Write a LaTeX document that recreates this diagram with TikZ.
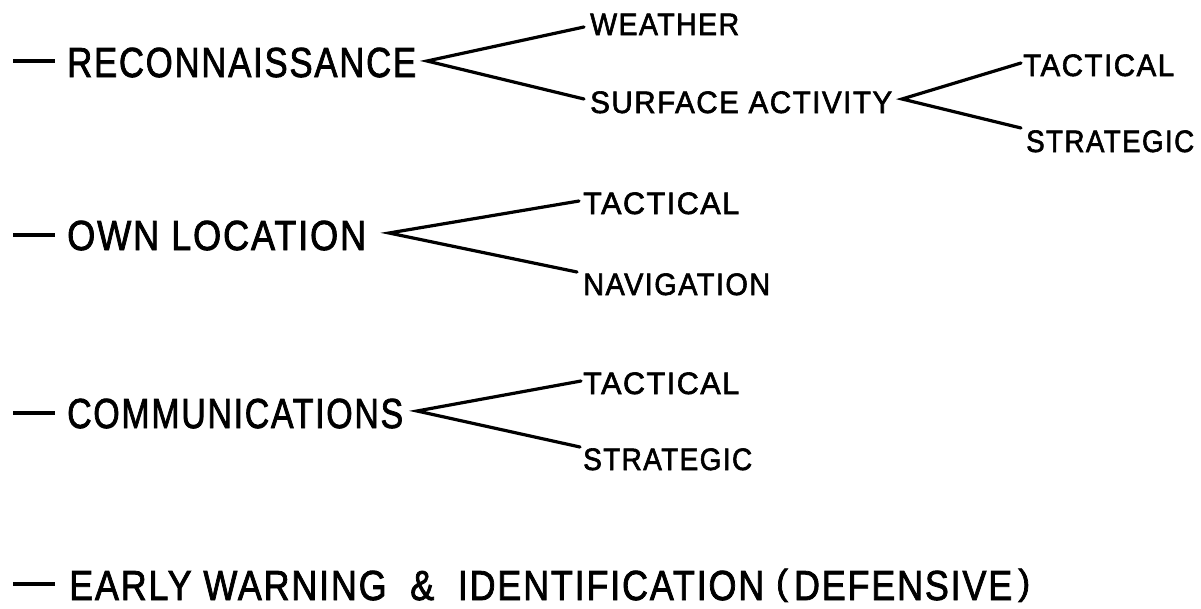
\documentclass[tikz,border=0pt]{standalone}
\usepackage{fontspec}
\setmainfont{Liberation Sans}
\newfontfamily\lettering[FakeBold=2,LetterSpace=5]{Liberation Sans}
\usepackage{graphicx}
\newcommand{\fitw}[2]{\resizebox{#1pt}{\height}{#2}}
\newcommand{\capparen}[1]{\raisebox{0.13em}{\scalebox{1}[0.85]{#1}}}
\begin{document}
\begin{tikzpicture}[x=1pt,y=-1pt,
  big/.style={inner sep=0pt,anchor=base west,font=\fontsize{42}{42}\lettering},
  small/.style={inner sep=0pt,anchor=base west,font=\fontsize{31}{31}\lettering},
  link/.style={line width=3.2pt,line cap=round,line join=miter},
  bar/.style={line width=4pt}]
\useasboundingbox (0,0) rectangle (1201,608);

% texts
\node[big] (recon) at (67,77) {\fitw{349}{RECONNAISSANCE}};
\node[small] (weather) at (590,35) {\fitw{149}{WEATHER}};
\node[small] (surface) at (590,113) {\fitw{302}{SURFACE ACTIVITY}};
\node[small] (tac1) at (1023,76) {\fitw{151}{TACTICAL}};
\node[small] (str1) at (1026,152) {\fitw{168}{STRATEGIC}};
\node[big] (own) at (67,250) {\fitw{299}{OWN LOCATION}};
\node[small] (tac2) at (583,214) {\fitw{156}{TACTICAL}};
\node[small] (nav) at (583,295) {\fitw{187}{NAVIGATION}};
\node[big] (comm) at (67,428) {\fitw{336}{COMMUNICATIONS}};
\node[small] (tac3) at (583,394) {\fitw{156}{TACTICAL}};
\node[small] (str3) at (583,470) {\fitw{169}{STRATEGIC}};
\node[big] (early) at (69,600) {\fitw{961}{EARLY WARNING \ \& \ IDENTIFICATION \capparen{(}\,DEFENSIVE\,\capparen{)}}};

% lead dashes
\coordinate (d1a) at (13,61); \coordinate (d1b) at (55,61);
\coordinate (d2a) at (13,235); \coordinate (d2b) at (55,235);
\coordinate (d3a) at (13,413); \coordinate (d3b) at (55,413);
\coordinate (d4a) at (13,584); \coordinate (d4b) at (55,584);
\draw[bar] (d1a) -- (d1b);
\draw[bar] (d2a) -- (d2b);
\draw[bar] (d3a) -- (d3b);
\draw[bar] (d4a) -- (d4b);

% branch points
\coordinate (ra) at (427,61);
\coordinate (sa) at (902,99);
\coordinate (oa) at (389,233);
\coordinate (ca) at (417,411);

% branch ends
\coordinate (we) at (584,27);
\coordinate (se) at (584,99);
\coordinate (t1e) at (1021,63);
\coordinate (s1e) at (1021,128);
\coordinate (t2e) at (579,201);
\coordinate (ne) at (577,272);
\coordinate (t3e) at (581,381);
\coordinate (s3e) at (580,447);

\draw[link] (we) -- (ra) -- (se);
\draw[link] (t1e) -- (sa) -- (s1e);
\draw[link] (t2e) -- (oa) -- (ne);
\draw[link] (t3e) -- (ca) -- (s3e);
\end{tikzpicture}
\end{document}
